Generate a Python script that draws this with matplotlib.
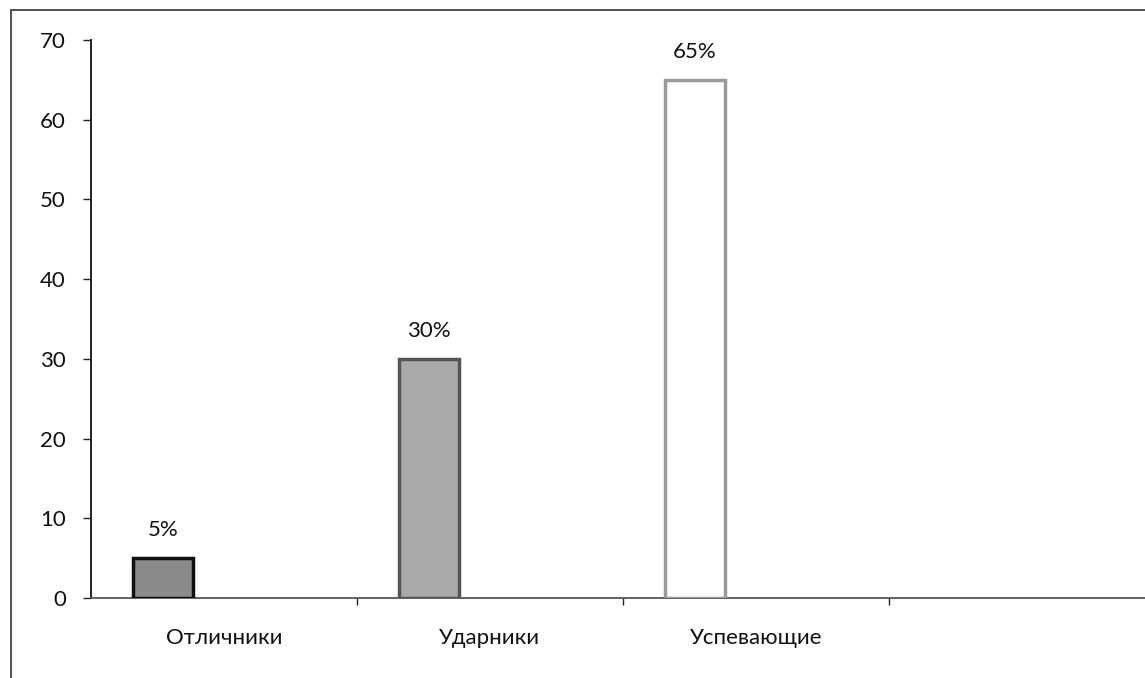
import matplotlib
matplotlib.use("Agg")
import matplotlib.pyplot as plt
from matplotlib.patches import Rectangle

categories = ["Отличники", "Ударники", "Успевающие"]
values = [5, 30, 65]
value_labels = ["5%", "30%", "65%"]
y_ticks = [0, 10, 20, 30, 40, 50, 60, 70]

fills = ["#8a8a8a", "#a9a9a9", "#ffffff"]
edges = ["#111111", "#555555", "#9a9a9a"]

W, H = 1145, 678
fig = plt.figure(figsize=(W / 100, H / 100), dpi=100)
plt.rcParams["font.family"] = ["Lato", "DejaVu Sans"]
FS = 16

# chart area border (cut off at right/bottom like the scan)
fig.patches.append(Rectangle((11 / W, -0.05), 1.2, 1 - 10 / H + 0.05,
                             transform=fig.transFigure, fill=False,
                             edgecolor="#333333", lw=1.2))

left, right = 91, 1145
top, bottom = 40, 598
ax = fig.add_axes([left / W, 1 - bottom / H, (right - left) / W, (bottom - top) / H])

cat_w = 266.0
xmax = -0.5 + (right - left) / cat_w
x = list(range(len(categories)))
bar_w = 60 / cat_w
xpos = [i - 61 / cat_w for i in x]

ax.bar(xpos, values, width=bar_w, color=fills, edgecolor=edges, linewidth=2.5, zorder=3)
for xp, v, lab in zip(xpos, values, value_labels):
    ax.text(xp, v + 28 / 7.97, lab, ha="center", va="center", fontsize=FS, color="#111111")

ax.set_xlim(-0.5, xmax)
ax.set_ylim(0, 70)
ax.set_yticks(y_ticks)
ax.set_yticklabels([str(t) for t in y_ticks], fontsize=FS, color="#111111")
ax.tick_params(axis="y", direction="out", length=6, width=1, pad=12, color="#222222")

# category boundary ticks, labels at centres
ax.set_xticks([0.5, 1.5, 2.5])
ax.set_xticklabels([])
ax.tick_params(axis="x", direction="out", length=5, width=1, color="#222222")
for i, c in zip(x, categories):
    ax.text(i, -40 / 7.97, c, ha="center", va="center", fontsize=FS, color="#111111",
            clip_on=False)

for s in ["top", "right"]:
    ax.spines[s].set_visible(False)
ax.spines["left"].set_color("#111111")
ax.spines["left"].set_linewidth(1.3)
ax.spines["bottom"].set_color("#555555")
ax.spines["bottom"].set_linewidth(1.3)
ax.spines["bottom"].set_linestyle((0, (2, 1)))

fig.savefig("out.png", dpi=100)
